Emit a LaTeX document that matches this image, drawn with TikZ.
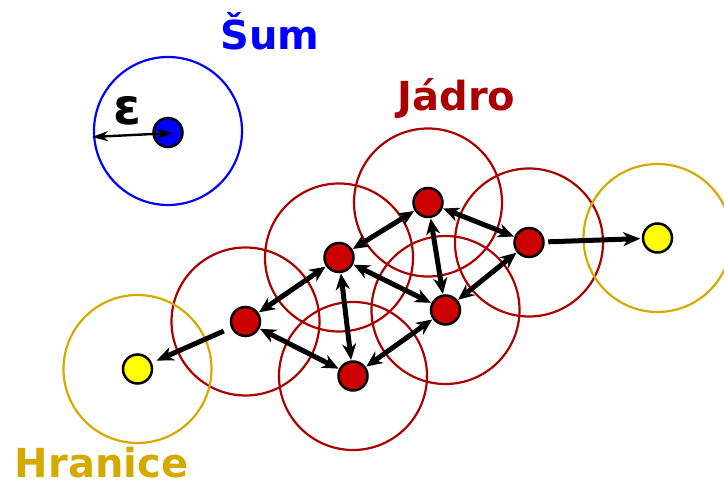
\documentclass[tikz,border=0pt]{standalone}
\usepackage{fontspec}
\setmainfont{DejaVu Sans}
\usetikzlibrary{arrows.meta}
\definecolor{noiseblue}{RGB}{0,0,255}
\definecolor{corered}{RGB}{204,0,0}
\definecolor{circred}{RGB}{170,0,0}
\definecolor{bordgold}{RGB}{212,170,0}
\definecolor{bordyellow}{RGB}{255,255,0}
\begin{document}
\begin{tikzpicture}[x=1pt,y=-1pt,
  dot/.style={circle,draw=black,line width=2.5pt,minimum size=29pt,inner sep=0pt},
  corept/.style={dot,fill=corered},
  noisept/.style={dot,fill=noiseblue},
  borderpt/.style={dot,fill=bordyellow},
  corecirc/.style={draw=circred,line width=2.2pt},
  noisecirc/.style={draw=noiseblue,line width=2.2pt},
  bordcirc/.style={draw=bordgold,line width=2.2pt},
  link/.style={line width=5pt,{Stealth[length=16pt,width=14pt,inset=5pt]}-{Stealth[length=16pt,width=14pt,inset=5pt]},shorten >=0.5pt,shorten <=0.5pt},
  reach/.style={line width=5pt,-{Stealth[length=17pt,width=14pt,inset=5pt]}},
  epsarrow/.style={line width=2.4pt,{Stealth[length=16pt,width=10pt,inset=5pt]}-{Stealth[length=16pt,width=10pt,inset=5pt]}},
  label/.style={inner sep=0pt,anchor=base,font=\fontsize{40}{48}\selectfont\bfseries}
]
\useasboundingbox (0,0) rectangle (724,486);
% positions
\coordinate (n) at (168,132.5);
\coordinate (a) at (245.5,321.5);
\coordinate (b) at (339,257.5);
\coordinate (c) at (428,202.5);
\coordinate (d) at (529,242.5);
\coordinate (e) at (445.5,310);
\coordinate (f) at (353,376);
\coordinate (g) at (137.5,369);
\coordinate (h) at (657.5,238);
% eps-neighbourhoods
\draw[noisecirc] (168,131) circle[radius=74pt];
\foreach \p in {a,b,c,d,e,f} \draw[corecirc] (\p) circle[radius=74pt];
\draw[bordcirc] (g) circle[radius=74pt];
\draw[bordcirc] (h) circle[radius=74pt];
% points
\node[noisept] (N) at (n) {};
\node[corept] (A) at (a) {};
\node[corept] (B) at (b) {};
\node[corept] (C) at (c) {};
\node[corept] (D) at (d) {};
\node[corept] (E) at (e) {};
\node[corept] (F) at (f) {};
\node[borderpt] (G) at (g) {};
\node[borderpt] (H) at (h) {};
% epsilon
\coordinate (epsout) at (92,137);
\coordinate (epsin) at (173,133);
\draw[epsarrow] (epsout) -- (epsin);
\node[inner sep=0pt,font=\fontsize{50}{56}\selectfont\bfseries] (eps) at (127,111) {ε};
% density connections
\draw[link] (B) -- (A);
\draw[link] (B) -- (C);
\draw[link] (C) -- (D);
\draw[link] (C) -- (E);
\draw[link] (B) -- (E);
\draw[link] (B) -- (F);
\draw[link] (A) -- (F);
\draw[link] (F) -- (E);
\draw[link] (E) -- (D);
\draw[reach,shorten <=8pt,shorten >=5pt] (A) -- (G);
\draw[reach,shorten <=3.5pt,shorten >=1.5pt] (D) -- (H);
% labels
\node[label,text=noiseblue] (sum) at (270,50) {Šum};
\node[label,text=circred] (jadro) at (456.5,111) {Jádro};
\node[label,text=bordgold] (hranice) at (101.5,478) {Hranice};
\end{tikzpicture}
\end{document}
